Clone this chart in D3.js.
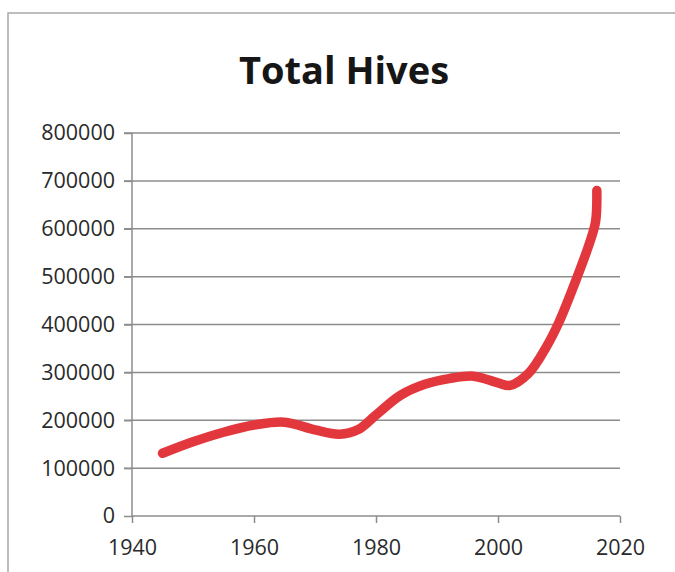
<!DOCTYPE html>
<html>
<head>
<meta charset="utf-8">
<script src="https://cdn.jsdelivr.net/npm/d3@7"></script>
<style>
  body { margin: 0; background: #fff; }
  svg { display: block; }
  .title { font-family: "Open Sans", sans-serif; font-weight: bold; font-size: 38px; fill: #161616; }
  .axis text { font-family: "Open Sans", sans-serif; font-size: 21.5px; fill: #2a2a2a; }
  .axis path, .axis line { stroke: #8c8c8c; stroke-width: 1.5; }
  .grid line { stroke: #8c8c8c; stroke-width: 1.5; }
  .line { fill: none; stroke: #e2383d; stroke-width: 9.5; stroke-linecap: round; stroke-linejoin: round; }
</style>
</head>
<body>
<div id="chart"></div>
<script>
// hives counted
let years  = [1945, 1950, 1955, 1960, 1965, 1970, 1974, 1977, 1980, 1984, 1988, 1992, 1996, 2000, 2002, 2005, 2008, 2010, 2013, 2015, 2016, 2016.2];
let hives  = [131000, 155000, 175000, 190000, 196000, 180000, 171000, 180000, 211000, 252000, 275000, 287000, 292000, 278000, 273000, 298000, 355000, 405000, 500000, 570000, 615000, 680000];
let xTicks = [1940, 1960, 1980, 2000, 2020];
let yTicks = [0, 100000, 200000, 300000, 400000, 500000, 600000, 700000, 800000];

let margin = {top: 133, right: 55, bottom: 56, left: 132};
let width = 675, height = 572;
let innerW = width - margin.left - margin.right;
let innerH = height - margin.top - margin.bottom;

let svg = d3.select('#chart').append('svg')
    .attr('width', width)
    .attr('height', height);

// frame of the chart area
svg.append('rect')
    .attr('x', 8).attr('y', 13)
    .attr('width', 700).attr('height', 600)
    .attr('fill', 'none')
    .attr('stroke', '#a8a8a8')
    .attr('stroke-width', 1.5);

svg.append('text')
    .attr('class', 'title')
    .attr('x', 344)
    .attr('y', 84)
    .attr('text-anchor', 'middle')
    .text('Total Hives');

let g = svg.append('g')
    .attr('transform', 'translate(' + margin.left + ',' + margin.top + ')');

let x = d3.scaleLinear().domain([1940, 2020]).range([0, innerW]);
let y = d3.scaleLinear().domain([0, 800000]).range([innerH, 0]);

// gridlines
g.append('g')
    .attr('class', 'grid')
    .selectAll('line')
    .data(yTicks.slice(1))
    .enter().append('line')
    .attr('x1', -8).attr('x2', innerW)
    .attr('y1', d => y(d)).attr('y2', d => y(d));

// y axis
let yAxis = g.append('g')
    .attr('class', 'axis')
    .call(d3.axisLeft(y).tickValues(yTicks).tickFormat(d3.format('d')).tickSize(8).tickPadding(9));
yAxis.select('.domain').attr('d', 'M0,' + innerH + 'V0');

// x axis
let xAxis = g.append('g')
    .attr('class', 'axis')
    .attr('transform', 'translate(0,' + innerH + ')')
    .call(d3.axisBottom(x).tickValues(xTicks).tickFormat(d3.format('d')).tickSize(7).tickPadding(17));
xAxis.select('.domain').attr('d', 'M0,0H' + innerW);

// the line
let hiveLine = d3.line()
    .x((d, i) => x(years[i]))
    .y(d => y(d))
    .curve(d3.curveCatmullRom.alpha(0.5));

g.append('path')
    .datum(hives)
    .attr('class', 'line')
    .attr('d', hiveLine);
</script>
</body>
</html>
